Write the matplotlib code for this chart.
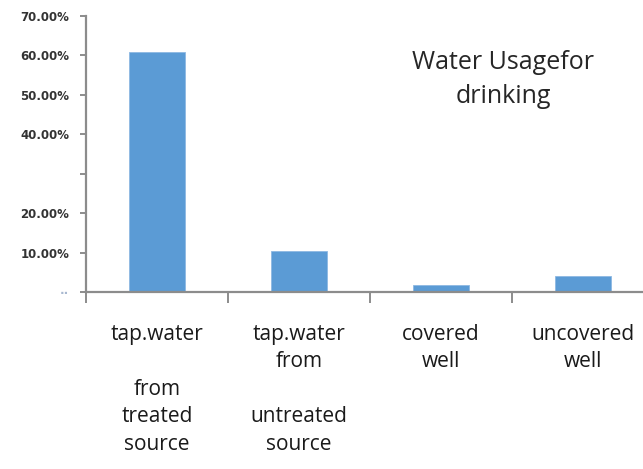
import matplotlib
matplotlib.use("Agg")
import matplotlib.pyplot as plt
from matplotlib.ticker import FixedLocator

# data
categories = ["tap.water\n\nfrom\ntreated\nsource",
              "tap.water\nfrom\n\nuntreated\nsource",
              "covered\nwell",
              "uncovered\nwell"]
shares = [0.609, 0.105, 0.018, 0.041]
y_ticks = [0.0, 0.1, 0.2, 0.3, 0.4, 0.5, 0.6, 0.7]
y_labels = ["··", "10.00%", "20.00%", "", "40.00%", "50.00%", "60.00%", "70.00%"]
title = "Water Usagefor\ndrinking"

bar_color = "#5B9BD5"
axis_color = "#8C8C8C"

fig = plt.figure(figsize=(6.43, 4.69), dpi=100)
ax = fig.add_axes([0.1337, 0.3774, 0.8834, 0.5885])

x = range(len(categories))
ax.bar(x, shares, width=0.4, color=bar_color, edgecolor="#8DB8E2", linewidth=0.6)

ax.set_xlim(-0.5, 3.5)
ax.set_ylim(0, 0.70)

for s in ["top", "right"]:
    ax.spines[s].set_visible(False)
for s in ["left", "bottom"]:
    ax.spines[s].set_color(axis_color)
    ax.spines[s].set_linewidth(1.6)

# y axis
ax.set_yticks(y_ticks)
ax.set_yticklabels(y_labels, fontsize=8.5, fontweight="bold", color="#333333")
ax.tick_params(axis="y", direction="out", length=4, width=1.4, color=axis_color, pad=8)
ax.get_yticklabels()[0].set_color("#A8B8D0")

# x axis: labels at category centres, tick marks at the boundaries
ax.set_xticks(list(x))
ax.set_xticklabels(categories, fontsize=15, family="Open Sans", linespacing=1.4,
                   color="#1a1a1a", va="top")
ax.tick_params(axis="x", which="major", length=0, pad=23)
ax.xaxis.set_minor_locator(FixedLocator([-0.5, 0.5, 1.5, 2.5, 3.5]))
ax.tick_params(axis="x", which="minor", direction="out", length=8, width=1.4, color=axis_color)

fig.text(0.783, 0.83, title, ha="center", va="center", fontsize=18,
         family="Open Sans", color="#262626", linespacing=1.45)

fig.savefig("out.png", dpi=100)
